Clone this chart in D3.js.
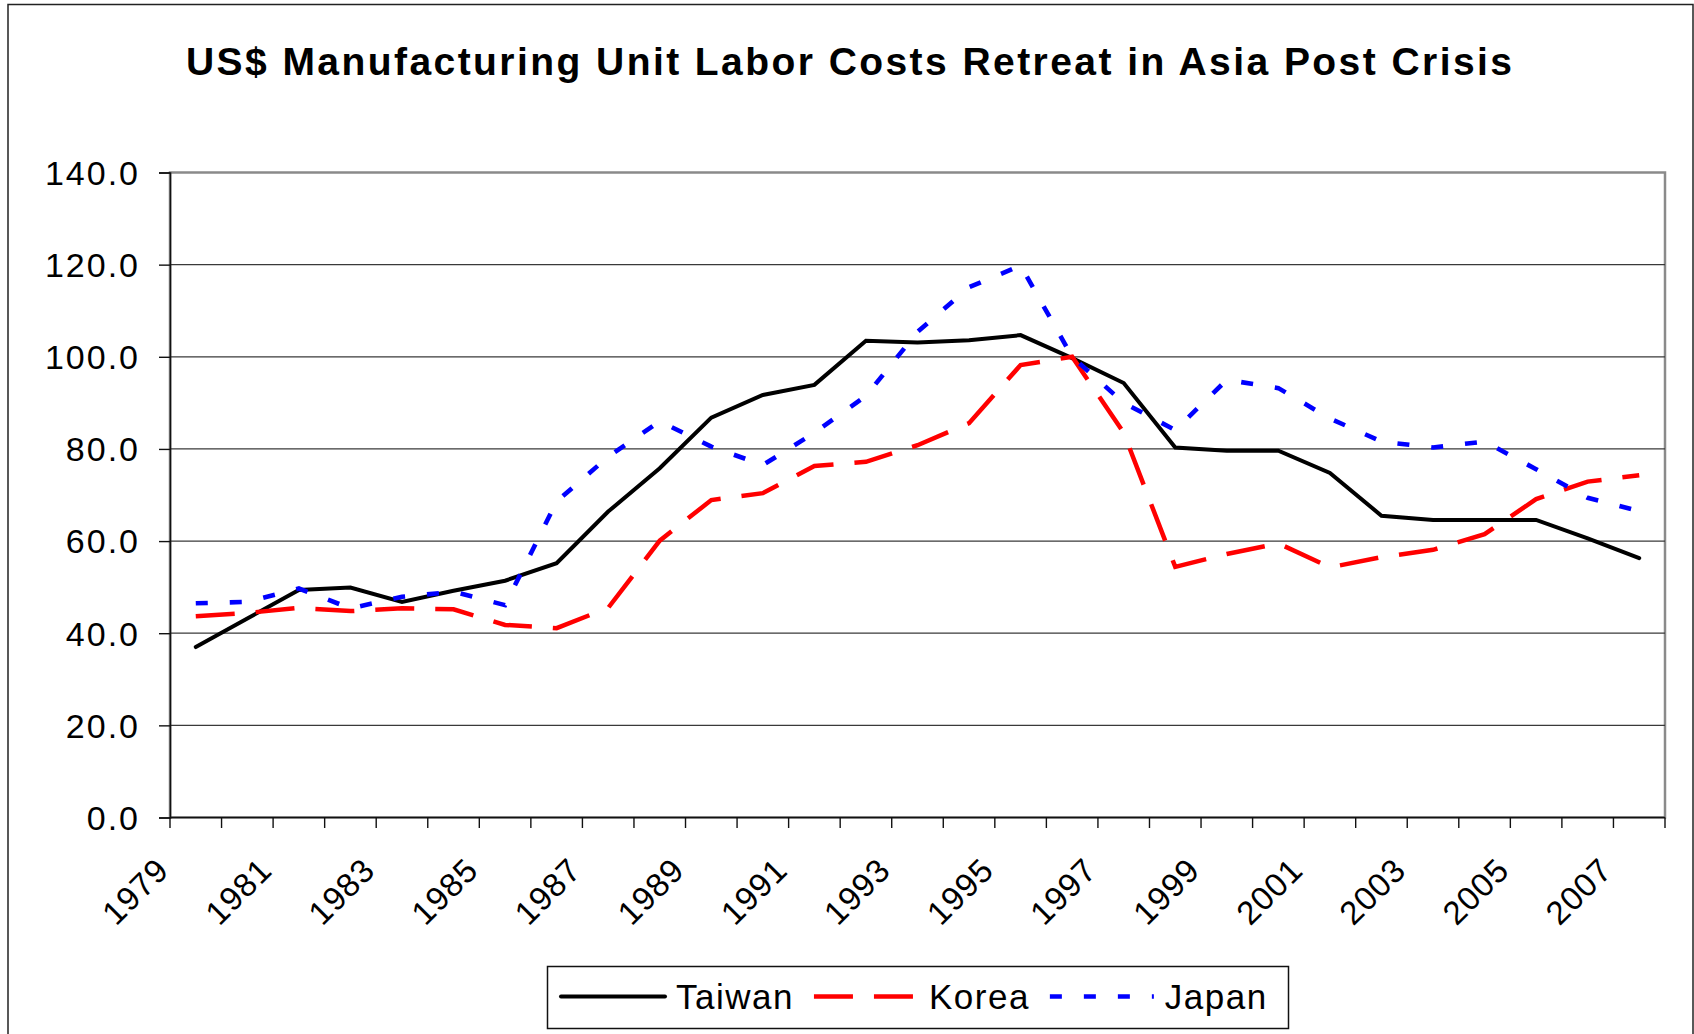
<!DOCTYPE html>
<html>
<head>
<meta charset="utf-8">
<script src="https://cdn.jsdelivr.net/npm/d3@7"></script>
<style>
  html, body { margin: 0; padding: 0; background: #fff; }
  svg { display: block; }
  text { font-family: "Liberation Sans", Arial, sans-serif; fill: #000; }
</style>
</head>
<body>
<svg id="chart" width="1694" height="1034"></svg>
<script>
// ---- data ----
const years = d3.range(1979, 2008).map(String);
const tickLabels = ["1979","1981","1983","1985","1987","1989","1991","1993","1995","1997","1999","2001","2003","2005","2007"];
const yTicks = [0, 20, 40, 60, 80, 100, 120, 140];
const taiwan = [37.0, 43.2, 49.4, 49.9, 46.8, 49.2, 51.4, 55.2, 66.4, 75.8, 86.8, 91.7, 93.9, 103.5, 103.1, 103.6, 104.7, 99.7, 94.3, 80.3, 79.6, 79.6, 74.8, 65.5, 64.6, 64.6, 64.6, 60.6, 56.3];
const korea  = [43.7, 44.4, 45.5, 44.8, 45.4, 45.2, 41.8, 41.1, 45.5, 60.1, 68.9, 70.4, 76.3, 77.2, 80.8, 85.6, 98.2, 100.0, 83.5, 54.4, 57.2, 59.5, 54.3, 56.5, 58.1, 61.5, 69.1, 72.9, 74.3];
const japan  = [46.5, 46.8, 49.7, 45.4, 47.9, 49.0, 46.1, 68.6, 78.3, 86.0, 80.5, 76.5, 83.5, 91.5, 105.4, 115.1, 119.8, 100.0, 90.0, 84.1, 95.0, 93.2, 86.6, 81.6, 80.3, 81.6, 75.6, 69.4, 66.5];
const seriesNames = ["Taiwan", "Korea", "Japan"];
const title = "US$ Manufacturing Unit Labor Costs Retreat in Asia Post Crisis";

const series = [
  { name: seriesNames[0], values: taiwan, color: "#000000", width: 4,   dash: null,    cap: "round" },
  { name: seriesNames[1], values: korea,  color: "#ff0000", width: 4.5, dash: "39,21", cap: "butt" },
  { name: seriesNames[2], values: japan,  color: "#0000ff", width: 4.6, dash: "12,22", cap: "butt" }
];

const svg = d3.select("#chart");
const L = 170, R = 1665, T = 172.5, B = 817.5;

// outer frame
svg.append("rect").attr("x", 8).attr("y", 4.5).attr("width", 1685).attr("height", 1040)
  .attr("fill", "none").attr("stroke", "#222").attr("stroke-width", 1.5);

// title
svg.append("text").attr("x", 186).attr("y", 75)
  .attr("font-size", 39).attr("font-weight", "bold")
  .attr("textLength", 1326).attr("lengthAdjust", "spacing")
  .text(title);

const x = d3.scaleBand().domain(years).range([L, R]).paddingInner(0).paddingOuter(0);
const cx = d => x(d) + x.bandwidth() / 2;
const y = d3.scaleLinear().domain([0, 140]).range([B, T]);

// plot border (gray)
svg.append("rect").attr("x", L).attr("y", T).attr("width", R - L).attr("height", B - T)
  .attr("fill", "none").attr("stroke", "#8a8a8a").attr("stroke-width", 2.5);

// gridlines
svg.append("g").selectAll("line").data(yTicks.filter(v => v > 0 && v < 140)).join("line")
  .attr("x1", L).attr("x2", R).attr("y1", d => y(d)).attr("y2", d => y(d))
  .attr("stroke", "#3a3a3a").attr("stroke-width", 1.3);

// y axis
const yAxis = svg.append("g").attr("transform", `translate(${L},0)`)
  .call(d3.axisLeft(y).tickValues(yTicks).tickSize(11).tickFormat(d3.format(".1f")).tickPadding(0));
yAxis.select(".domain").attr("stroke", "#111").attr("stroke-width", 1.6);
yAxis.selectAll(".tick line").attr("stroke", "#111").attr("stroke-width", 1.4);
yAxis.selectAll(".tick text")
  .attr("x", -30).attr("dy", "0.35em")
  .attr("font-size", 34).attr("letter-spacing", "2px")
  .style("font-family", '"Liberation Sans", Arial, sans-serif').attr("fill", "#000");

// x axis: ticks on band boundaries
const xAxisG = svg.append("g");
xAxisG.append("line").attr("x1", L).attr("x2", R).attr("y1", B).attr("y2", B)
  .attr("stroke", "#111").attr("stroke-width", 1.6);
const boundaries = years.map(d => x(d)).concat([R]);
xAxisG.selectAll("line.tk").data(boundaries).join("line").attr("class", "tk")
  .attr("x1", d => d).attr("x2", d => d).attr("y1", B).attr("y2", B + 10.5)
  .attr("stroke", "#111").attr("stroke-width", 1.4);
xAxisG.selectAll("text").data(tickLabels).join("text")
  .attr("transform", d => `translate(${cx(d) - 25},872) rotate(-45)`)
  .attr("text-anchor", "end")
  .attr("font-size", 33).attr("letter-spacing", "1px")
  .text(d => d);

// lines
const line = d3.line().x((v, i) => cx(years[i])).y(v => y(v));
svg.append("g").selectAll("path").data(series).join("path")
  .attr("d", d => line(d.values))
  .attr("fill", "none")
  .attr("stroke", d => d.color)
  .attr("stroke-width", d => d.width)
  .attr("stroke-dasharray", d => d.dash)
  .attr("stroke-linecap", d => d.cap)
  .attr("stroke-linejoin", "miter");

// legend
const lg = svg.append("g");
lg.append("rect").attr("x", 547.5).attr("y", 966.5).attr("width", 741).attr("height", 62)
  .attr("fill", "#fff").attr("stroke", "#111").attr("stroke-width", 1.5);
let lx = 561;
const ly = 996.5;
series.forEach(s => {
  lg.append("line").attr("x1", lx).attr("x2", lx + 104).attr("y1", ly).attr("y2", ly)
    .attr("stroke", s.color).attr("stroke-width", s.width)
    .attr("stroke-dasharray", s.dash).attr("stroke-linecap", s.cap);
  const t = lg.append("text").attr("x", lx + 115).attr("y", ly + 12)
    .attr("font-size", 35).attr("letter-spacing", "1.5px").text(s.name);
  lx = lx + 115 + t.node().getComputedTextLength() + 20;
});
</script>
</body>
</html>
